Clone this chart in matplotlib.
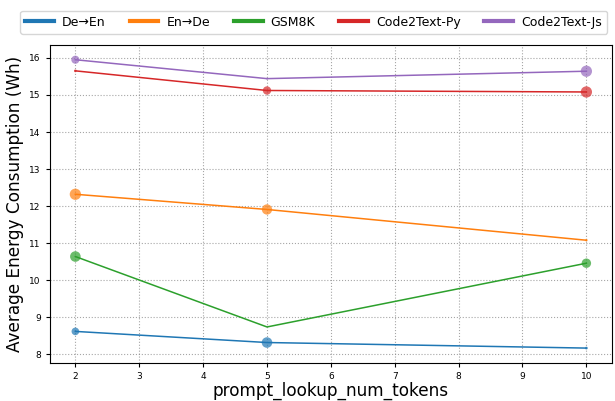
import numpy as np
import matplotlib
matplotlib.use("Agg")
import matplotlib.pyplot as plt

# prompt_lookup_num_tokens values
tokens = [2, 5, 10]

series_names = ["De→En", "En→De", "GSM8K", "Code2Text-Py", "Code2Text-Js"]
colors = ["#1f77b4", "#ff7f0e", "#2ca02c", "#d62728", "#9467bd"]

# average energy (Wh) per setting
de_en = [8.62, 8.32, 8.17]
en_de = [12.32, 11.91, 11.08]
gsm8k = [10.64, 8.74, 10.46]
code_py = [15.65, 15.12, 15.08]
code_js = [15.95, 15.44, 15.64]

# marker sizes (scatter s)
size_de_en = [30, 58, 4]
size_en_de = [66, 55, 3]
size_gsm8k = [58, 0, 46]
size_code_py = [4, 36, 66]
size_code_js = [34, 2, 66]

values = [de_en, en_de, gsm8k, code_py, code_js]
sizes = [size_de_en, size_en_de, size_gsm8k, size_code_py, size_code_js]

fig = plt.figure(figsize=(6.15, 4.01), dpi=100)
ax = fig.add_subplot(111)
fig.subplots_adjust(left=0.081, right=0.995, top=0.887, bottom=0.096)

for name, vals, sz, c in zip(series_names, values, sizes, colors):
    ax.plot(tokens, vals, color=c, linewidth=1.1, label=name)
    ax.scatter(tokens, vals, s=sz, color=c, alpha=0.7, edgecolors="none", zorder=3)

ax.set_xticks(range(2, 11))
ax.set_yticks(range(8, 17))
ax.tick_params(labelsize=6.5, length=3)
ax.grid(True, linestyle=":", color="gray", alpha=0.7, linewidth=0.8)
ax.set_xlabel("prompt_lookup_num_tokens", fontsize=12.2, labelpad=1)
ax.set_ylabel("Average Energy Consumption (Wh)", fontsize=12.2, labelpad=4)

leg = fig.legend(loc="center", bbox_to_anchor=(0.51, 0.945), ncol=5, fontsize=9,
                 handlelength=2.3, handletextpad=0.65, columnspacing=1.9, frameon=True)
for line in leg.get_lines():
    line.set_linewidth(3)

fig.savefig("out.png", dpi=100)
